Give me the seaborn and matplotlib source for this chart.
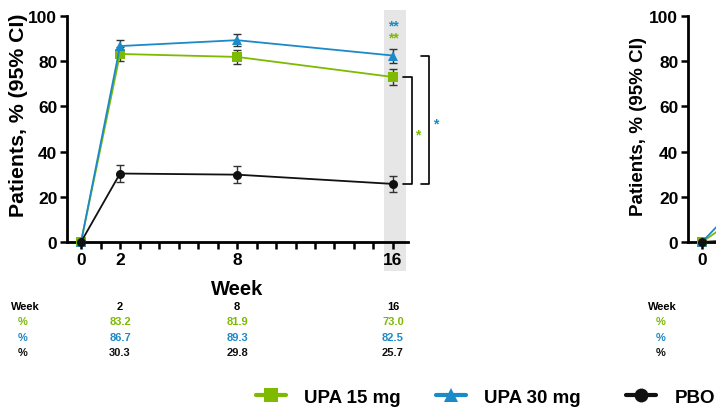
import numpy as np
import pandas as pd
import matplotlib
matplotlib.use('Agg')
import matplotlib.pyplot as plt
import matplotlib.transforms as mtransforms
from matplotlib.patches import Rectangle
from matplotlib.lines import Line2D
import seaborn as sns

# data
weeks = [0, 2, 8, 16]
arms = ['UPA 15 mg', 'UPA 30 mg', 'PBO']
upa15 = [0, 83.2, 81.9, 73.0]
upa15_lo = [0, 80.0, 78.8, 69.6]
upa15_hi = [0, 86.3, 85.0, 76.5]
upa30 = [0, 86.7, 89.3, 82.5]
upa30_lo = [0, 83.9, 86.7, 79.4]
upa30_hi = [0, 89.5, 91.9, 85.6]
pbo = [0, 30.3, 29.8, 25.7]
pbo_lo = [0, 26.6, 26.1, 22.2]
pbo_hi = [0, 34.2, 33.6, 29.4]
# second panel, only its start is visible
upa15_b = [0, 12.0, 30.0, 35.0]
upa30_b = [0, 18.0, 40.0, 45.0]
pbo_b = [0, 1.0, 3.0, 4.0]

green = '#7dba00'
blue = '#1b8ac8'
black = '#111111'
colors = {'UPA 15 mg': green, 'UPA 30 mg': blue, 'PBO': black}
markers = {'UPA 15 mg': 's', 'UPA 30 mg': '^', 'PBO': 'o'}

df = pd.DataFrame({
    'week': weeks * 3,
    'pct': upa15 + upa30 + pbo,
    'lo': upa15_lo + upa30_lo + pbo_lo,
    'hi': upa15_hi + upa30_hi + pbo_hi,
    'arm': [a for a in arms for _ in weeks],
})
df_b = pd.DataFrame({
    'week': weeks * 3,
    'pct': upa15_b + upa30_b + pbo_b,
    'arm': [a for a in arms for _ in weeks],
})

sns.set_theme(style='ticks')
plt.rcParams['font.family'] = ['Liberation Sans', 'DejaVu Sans']
plt.rcParams['font.weight'] = 'bold'
plt.rcParams['text.color'] = 'black'
plt.rcParams['axes.labelcolor'] = 'black'

W, H = 716, 414
fig = plt.figure(figsize=(W / 100, H / 100), dpi=100)
ax = fig.add_axes([67 / W, 171 / H, 341 / W, 226 / H])
ax2 = fig.add_axes([688 / W, 171 / H, 341 / W, 226 / H])


def style_axis(a, labelled):
    a.set_xlim(-0.72, 16.77)
    a.set_ylim(0, 100)
    a.set_xticks(range(17))
    a.set_xticklabels([str(w) if w in labelled else '' for w in range(17)])
    a.set_yticks([0, 20, 40, 60, 80, 100])
    for s in ['top', 'right']:
        a.spines[s].set_visible(False)
    for s in ['left', 'bottom']:
        a.spines[s].set_linewidth(2)
        a.spines[s].set_color('black')
    a.tick_params(direction='out', length=5, width=1.8, colors='black',
                  labelsize=12.5, pad=2)
    for lab in a.get_xticklabels() + a.get_yticklabels():
        lab.set_fontweight('bold')
    a.set_facecolor('none')


for a, d, lab in [(ax, df, weeks), (ax2, df_b, [0])]:
    sns.lineplot(data=d, x='week', y='pct', hue='arm', style='arm',
                 palette=colors, markers=markers, dashes=False, hue_order=arms,
                 style_order=['PBO', 'UPA 15 mg', 'UPA 30 mg'],
                 markersize=6.5, linewidth=1.3, markeredgewidth=0,
                 legend=False, ax=a, clip_on=False, zorder=3)
    style_axis(a, lab)
    a.set_xlabel('')

ax.set_ylabel('Patients, % (95% CI)', fontsize=15.3, fontweight='bold')
ax.yaxis.set_label_coords(-0.115, 0.566)
ax2.set_ylabel('Patients, % (95% CI)', fontsize=13.5, fontweight='bold')
ax2.yaxis.set_label_coords(-0.12, 0.515)
ax.set_xlabel('Week', fontsize=14.5, fontweight='bold', labelpad=9)

# confidence intervals
sub = df[df['week'] > 0]
ax.errorbar(sub['week'], sub['pct'],
            yerr=[sub['pct'] - sub['lo'], sub['hi'] - sub['pct']],
            fmt='none', ecolor='#333333', elinewidth=1, capsize=3, capthick=1, zorder=2)

# grey band at week 16
blend = mtransforms.blended_transform_factory(ax.transData, ax.transAxes)
ax.add_patch(Rectangle((15.54, -0.128), 1.13, 1.155, transform=blend,
                       facecolor='#e6e6e6', edgecolor='none', zorder=0, clip_on=False))
ax.text(16, 96.0, '**', color=blue, ha='center', va='center', fontsize=10, fontweight='bold')
ax.text(16, 90.3, '**', color=green, ha='center', va='center', fontsize=10, fontweight='bold')

# significance brackets
ax.plot([16.5, 16.97, 16.97, 16.5], [upa15[3], upa15[3], pbo[3], pbo[3]],
        color='black', lw=1.2, clip_on=False)
ax.plot([17.44, 17.85, 17.85, 17.44], [upa30[3], upa30[3], pbo[3], pbo[3]],
        color='black', lw=1.2, clip_on=False)
ax.text(17.28, 47.5, '*', color=green, ha='center', va='center', fontsize=10, fontweight='bold')
ax.text(18.2, 52.5, '*', color=blue, ha='center', va='center', fontsize=10, fontweight='bold')

# table under the plot
tb = mtransforms.blended_transform_factory(ax.transData, fig.transFigure)
rows_y = [(414 - 322) / H, (414 - 338) / H, (414 - 353) / H]
week_y = (414 - 307) / H
fig.text(25 / W, week_y, 'Week', ha='center', va='center', fontsize=8, fontweight='bold')
fig.text(662 / W, week_y, 'Week', ha='center', va='center', fontsize=8, fontweight='bold')
for vals, col, y in zip([upa15, upa30, pbo], [green, blue, black], rows_y):
    fig.text(23 / W, y, '%', ha='center', va='center', fontsize=8, fontweight='bold', color=col)
    fig.text(661 / W, y, '%', ha='center', va='center', fontsize=8, fontweight='bold', color=col)
    for w, v in zip(weeks[1:], vals[1:]):
        fig.text(w, y, f'{v:.1f}', transform=tb, ha='center', va='center',
                 fontsize=8, fontweight='bold', color=col)
for w in weeks[1:]:
    fig.text(w, week_y, str(w), transform=tb, ha='center', va='center',
             fontsize=8, fontweight='bold')

# legend, one entry at a time to keep the uneven spacing
legend_x = [252, 432, 622]
for a, lx in zip(arms, legend_x):
    h = Line2D([], [], color=colors[a], marker=markers[a], markersize=10,
               lw=3, markeredgewidth=0)
    fig.legend([h], [a], loc='center left', bbox_to_anchor=(lx / W, 16 / H),
               frameon=False, handlelength=1.6, handletextpad=1.0,
               borderaxespad=0, borderpad=0.2, labelcolor='black',
               prop={'size': 13.5, 'weight': 'bold'})

fig.savefig('out.png', dpi=100)
